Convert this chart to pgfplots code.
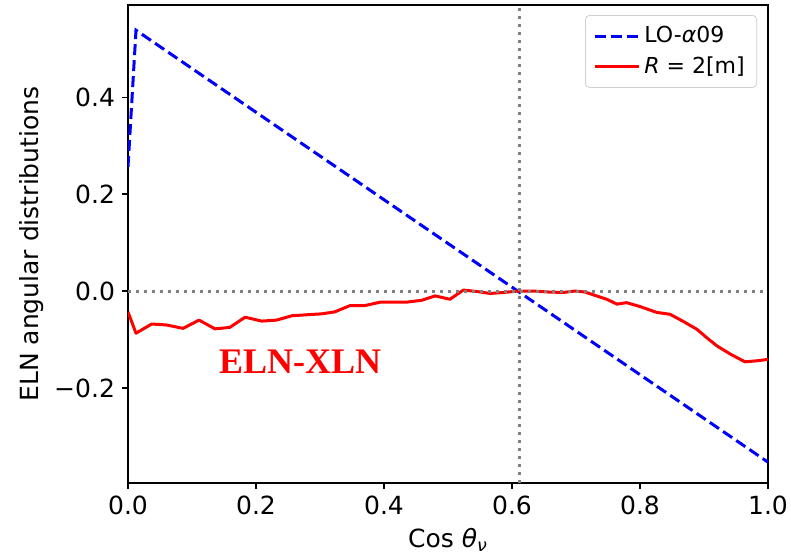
\documentclass[border=0pt]{standalone}
\usepackage{fontspec}
\setmainfont{DejaVu Sans}
\newfontfamily\labelserif{Liberation Serif}
\usepackage{pgfplots}
\pgfplotsset{compat=1.18}

% ELN-XLN angular distribution, R = 2 m
\pgfplotstableread{
x       y
0.000  -0.043
0.0125 -0.087
0.037  -0.068
0.060  -0.070
0.086  -0.077
0.111  -0.060
0.136  -0.078
0.159  -0.075
0.183  -0.054
0.209  -0.062
0.232  -0.060
0.256  -0.051
0.279  -0.049
0.303  -0.047
0.323  -0.043
0.347  -0.030
0.370  -0.030
0.394  -0.023
0.414  -0.023
0.435  -0.023
0.459  -0.019
0.480  -0.010
0.503  -0.017
0.524   0.002
0.545  -0.001
0.566  -0.005
0.586  -0.003
0.610   0.000
0.633   0.000
0.657  -0.002
0.680  -0.003
0.698   0.000
0.714  -0.002
0.732  -0.010
0.748  -0.017
0.764  -0.027
0.779  -0.024
0.800  -0.032
0.826  -0.044
0.847  -0.048
0.868  -0.063
0.889  -0.079
0.904  -0.096
0.920  -0.113
0.941  -0.130
0.964  -0.146
0.982  -0.144
1.000  -0.141
}\redtable

% LO-alpha09 angular distribution
\pgfplotstableread{
x       y
0.000   0.256
0.0125  0.538
1.000  -0.353
}\bluetable

\begin{document}
\begin{tikzpicture}
\begin{axis}[
  scale only axis,
  width=320pt, height=239pt,
  xmin=0, xmax=1, ymin=-0.396, ymax=0.590,
  xtick={0,0.2,0.4,0.6,0.8,1.0},
  xticklabels={0.0,0.2,0.4,0.6,0.8,1.0},
  ytick={-0.2,0,0.2,0.4},
  yticklabels={−0.2,0.0,0.2,0.4},
  xtick pos=bottom, ytick pos=left,
  tick align=outside,
  major tick length=3pt,
  tick style={black, line width=0.6pt},
  axis line style={line width=0.7pt},
  ticklabel style={font=\fontsize{12.5}{15}\selectfont},
  label style={font=\fontsize{12.5}{15}\selectfont},
  xlabel={Cos {\itshape θ}\textsubscript{\itshape ν}},
  ylabel={ELN angular distributions},
  ylabel style={yshift=-1.5pt},
  legend style={
    at={(0.983,0.979)}, anchor=north east,
    draw=black!18, rounded corners=2pt,
    font=\fontsize{11}{14}\selectfont,
    inner xsep=4pt, inner ysep=3.5pt,
    row sep=1.5pt,
  },
  legend cell align=left,
  legend image code/.code={\draw[#1] (0pt,0pt) -- (22pt,0pt);},
]
\addplot[blue, line width=1.5pt, dash pattern=on 5.5pt off 2.5pt]
  table[x=x, y=y] {\bluetable};
\addlegendentry{LO-{\itshape α}09}
\addplot[red, line width=1.5pt, line join=round]
  table[x=x, y=y] {\redtable};
\addlegendentry{{\itshape R} = 2[m]}

% reference lines at zero and at the crossing angle
\draw[gray, line width=1.5pt, dash pattern=on 1.5pt off 2.5pt]
  (axis cs:0,0) -- (axis cs:1,0);
\draw[gray, line width=1.5pt, dash pattern=on 1.5pt off 2.5pt]
  (axis cs:0.611,-0.396) -- (axis cs:0.611,0.590);

\node[text=red, font=\labelserif\bfseries\fontsize{18}{20}\selectfont]
  at (axis cs:0.269,-0.146) {ELN-XLN};
\end{axis}
\pgfresetboundingbox
\path (current axis.south west) ++(-64pt,-37.5pt) rectangle ++(395.5pt,279pt);
\end{tikzpicture}
\end{document}
